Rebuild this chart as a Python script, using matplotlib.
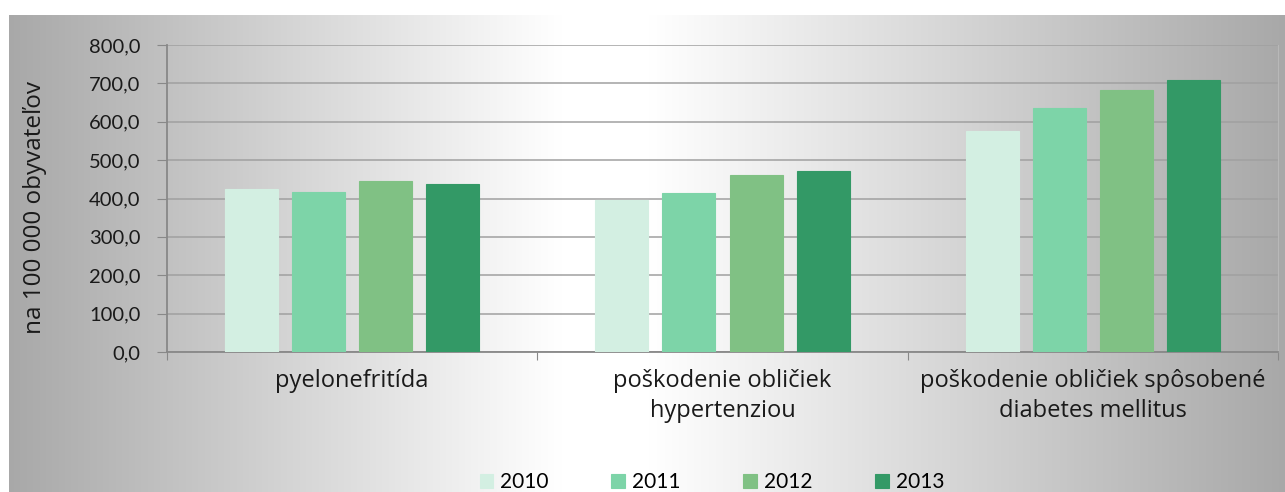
import numpy as np
import matplotlib
matplotlib.use("Agg")
import matplotlib.pyplot as plt

categories = ["pyelonefritída", "poškodenie obličiek\nhypertenziou",
              "poškodenie obličiek spôsobené\ndiabetes mellitus"]
years = ["2010", "2011", "2012", "2013"]
values_2010 = [426, 396, 577]
values_2011 = [418, 415, 636]
values_2012 = [446, 460, 682]
values_2013 = [439, 471, 709]
series = [values_2010, values_2011, values_2012, values_2013]
colors = ["#d3efe2", "#7dd4a8", "#80c184", "#339966"]
yticks = [0, 100, 200, 300, 400, 500, 600, 700, 800]
ylabel = "na 100 000 obyvateľov"

W, H = 1285, 492
fig = plt.figure(figsize=(W / 100, H / 100), dpi=100)
fig.patch.set_facecolor("white")

# background gradient
bg = fig.add_axes([9 / W, 0, 1 - 9 / W, (H - 15) / H], zorder=-10)
xs = np.linspace(9, W, 800)
g = np.interp(xs, [9, 560, 650, W], [0.66, 1.0, 1.0, 0.66])
img = np.stack([g, g, g], axis=-1)[np.newaxis, :, :].repeat(2, axis=0)
bg.imshow(img, aspect="auto", extent=[0, 1, 0, 1])
bg.set_axis_off()

ax = fig.add_axes([167 / W, (H - 352) / H, (1278 - 167) / W, 307 / H])
ax.set_facecolor("none")

slot = 67 / 370
bw = 53 / 370
x = np.arange(len(categories))
for i, (vals, c, yr) in enumerate(zip(series, colors, years)):
    ax.bar(x + (i - 1.5) * slot, vals, width=bw, color=c, label=yr,
           edgecolor=c, linewidth=0.8, zorder=3)

ax.set_xlim(-0.5, 2.5)
ax.set_ylim(0, 800)
ax.set_yticks(yticks)
ax.set_yticklabels([f"{v:.1f}".replace(".", ",") for v in yticks],
                   fontsize=14.5, family="Lato", color="#1a1a1a")
ax.yaxis.grid(True, color="#a0a0a0", linewidth=1.1, zorder=0)
ax.set_axisbelow(True)

ax.set_xticks([-0.5, 0.5, 1.5, 2.5])
ax.set_xticklabels([])
ax.set_xticks(x, minor=True)
ax.set_xticklabels(categories, minor=True, fontsize=17, family="Open Sans",
                   color="#1a1a1a", linespacing=1.35)
ax.tick_params(axis="x", which="minor", length=0, pad=12)
ax.tick_params(axis="x", which="major", length=6, color="#888888", direction="out")
ax.tick_params(axis="y", length=7, color="#888888", direction="out", pad=12)

ax.spines["top"].set_visible(False)
ax.spines["right"].set_color("#b8b8b8")
ax.spines["right"].set_linewidth(0.8)
for s in ["left", "bottom"]:
    ax.spines[s].set_color("#888888")
    ax.spines[s].set_linewidth(1.3)

fig.text(35 / W, (H - 207) / H, ylabel, rotation=90, ha="center", va="center",
         fontsize=17.5, family="Open Sans", color="#1a1a1a")

leg = fig.legend(loc="center", bbox_to_anchor=(712 / W, 10 / H), ncol=4,
                 frameon=False, prop={"family": "Lato", "size": 15},
                 handlelength=0.65, handleheight=0.65, handletextpad=0.35,
                 columnspacing=3.0, borderpad=0.2)

fig.savefig("out.png", dpi=100)
